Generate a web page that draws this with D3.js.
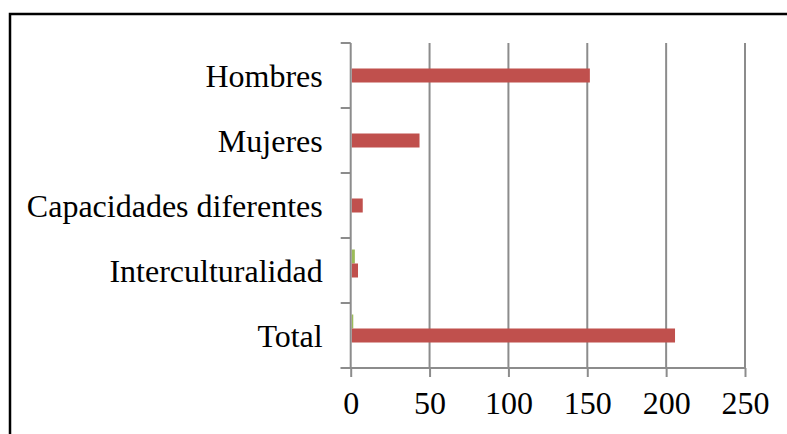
<!DOCTYPE html>
<html>
<head>
<meta charset="utf-8">
<script src="https://cdn.jsdelivr.net/npm/d3@7"></script>
<style>
  html, body { margin: 0; padding: 0; background: #fff; }
  svg { display: block; }
  text { font-family: "Liberation Serif", "Times New Roman", serif; fill: #000; }
</style>
</head>
<body>
<svg id="chart" width="787" height="434"></svg>
<script>
// Categories, top to bottom
const categories = ["Hombres", "Mujeres", "Capacidades diferentes", "Interculturalidad", "Total"];
// Three clustered series (drawn bottom to top inside each group: serie1, serie2, serie3)
const serie1 = [0, 0, 0, 0, 0];
const serie2 = [151, 43, 7, 4, 205];
const serie3 = [0, 0, 0, 2, 1];
const tickValues = [0, 50, 100, 150, 200, 250];

const seriesNames = ["serie3", "serie2", "serie1"]; // top to bottom within a group
const seriesData = { serie1, serie2, serie3 };
const seriesColors = { serie1: "#4F81BD", serie2: "#C0504D", serie3: "#9BBB59" };

const svg = d3.select("#chart");
const gridColor = "#8c8c8c";

// Outer frame
svg.append("rect")
  .attr("x", 10).attr("y", 14)
  .attr("width", 800).attr("height", 440)
  .attr("fill", "#fff")
  .attr("stroke", "#000")
  .attr("stroke-width", 2.5);

const plot = { left: 350.7, right: 745, top: 43, bottom: 368 };

const x = d3.scaleLinear().domain([0, 250]).range([plot.left, plot.right]);
const y = d3.scaleBand().domain(categories).range([plot.top, plot.bottom]).padding(0);
const groupInset = (y.bandwidth() - 42) / 2;
const y1 = d3.scaleBand().domain(seriesNames)
  .range([groupInset, groupInset + 42]).padding(0);

// Vertical gridlines
svg.append("g").selectAll("line")
  .data(tickValues.filter(v => v > 0))
  .join("line")
  .attr("x1", d => x(d)).attr("x2", d => x(d))
  .attr("y1", plot.top).attr("y2", plot.bottom)
  .attr("stroke", gridColor).attr("stroke-width", 2);

// Bars
const rows = [];
categories.forEach((c, i) => {
  seriesNames.forEach(s => rows.push({ cat: c, s, v: seriesData[s][i] }));
});
svg.append("g").selectAll("rect")
  .data(rows.filter(d => d.v > 0))
  .join("rect")
  .attr("x", x(0) + 1)
  .attr("y", d => y(d.cat) + y1(d.s))
  .attr("width", d => x(d.v) - x(0))
  .attr("height", y1.bandwidth())
  .attr("fill", d => seriesColors[d.s]);

// Bottom axis
const xAxis = d3.axisBottom(x).tickValues(tickValues).tickSize(9).tickPadding(14).tickSizeOuter(0);
const gx = svg.append("g").attr("transform", `translate(0,${plot.bottom})`).call(xAxis);
gx.select(".domain").remove();
gx.selectAll(".tick line").attr("stroke", gridColor).attr("stroke-width", 2);
gx.selectAll(".tick text")
  .attr("font-size", 32)
  .attr("font-family", "'Liberation Serif', 'Times New Roman', serif")
  .attr("fill", "#000")
  .attr("dy", "0.72em");
svg.append("line")
  .attr("x1", plot.left - 10).attr("x2", plot.right + 1)
  .attr("y1", plot.bottom).attr("y2", plot.bottom)
  .attr("stroke", gridColor).attr("stroke-width", 2);

// Left axis with tick marks at category boundaries
svg.append("line")
  .attr("x1", plot.left).attr("x2", plot.left)
  .attr("y1", plot.top).attr("y2", plot.bottom)
  .attr("stroke", gridColor).attr("stroke-width", 2);
const bounds = categories.map(c => y(c)).concat([plot.bottom]);
svg.append("g").selectAll("line")
  .data(bounds)
  .join("line")
  .attr("x1", plot.left - 10).attr("x2", plot.left)
  .attr("y1", d => d).attr("y2", d => d)
  .attr("stroke", gridColor).attr("stroke-width", 2);

// Category labels
svg.append("g").selectAll("text")
  .data(categories)
  .join("text")
  .attr("x", plot.left - 28)
  .attr("y", d => y(d) + y.bandwidth() / 2 + 11)
  .attr("text-anchor", "end")
  .attr("font-size", 32)
  .text(d => d);
</script>
</body>
</html>
